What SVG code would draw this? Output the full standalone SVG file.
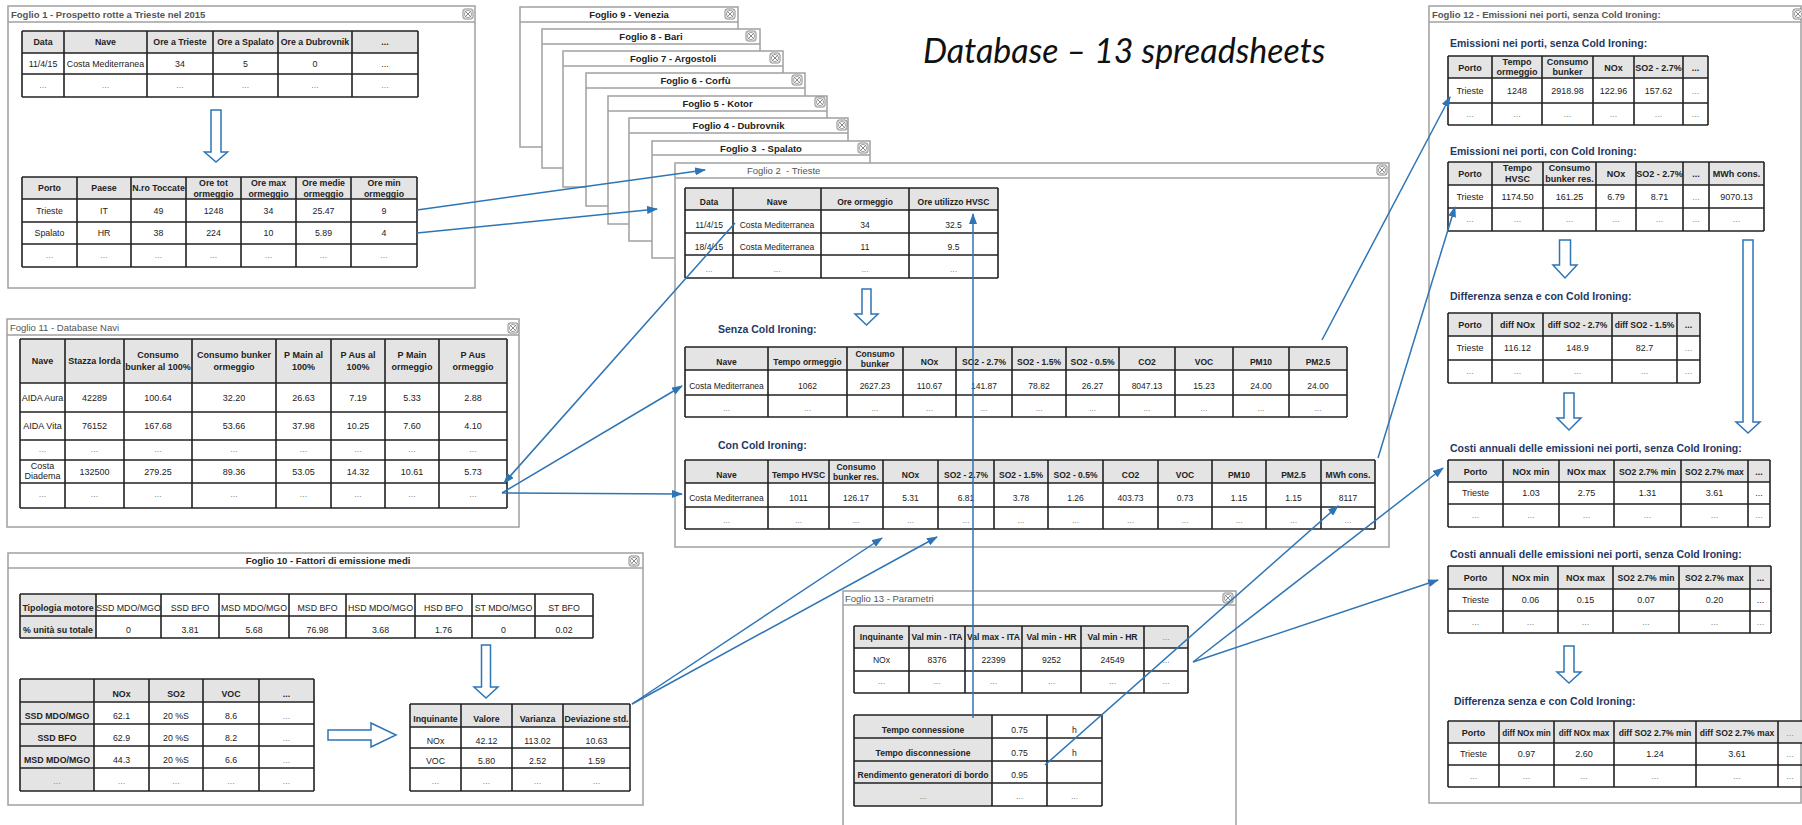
<svg xmlns="http://www.w3.org/2000/svg" width="1802" height="825" viewBox="0 0 1802 825" font-family="'Liberation Sans', Arial, sans-serif">
<style>
.win{fill:#fff;stroke:#a0a0a0;stroke-width:1.5}
.bar{fill:none;stroke:#a0a0a0;stroke-width:1.5}
.wt{font-size:9.5px;font-weight:bold;fill:#555}
.wr{font-size:9.5px;fill:#555}
.g{fill:#e4e4e4}
.grid{fill:none;stroke:#222;stroke-width:1.6}
.c{text-anchor:middle;fill:#222}
.b{font-weight:bold}
.d{fill:#888}
.hd{font-size:10.5px;font-weight:bold;fill:#1f3864}
.cn{fill:none;stroke:#2e75b6;stroke-width:1.5}
.ha{fill:#fff;stroke:#2e75b6;stroke-width:1.5}
.ttl{font-family:Lato,'Open Sans',sans-serif;font-style:italic;font-size:34px;fill:#111}
</style>
<defs>
<symbol id="cl" viewBox="0 0 10 10" width="10" height="10" overflow="visible">
<rect x="0" y="0" width="10" height="10" rx="2" fill="#fff" stroke="#888" stroke-width="1"/>
<circle cx="5" cy="5" r="3.6" fill="none" stroke="#888" stroke-width="0.8"/>
<path d="M1.5 1.5L8.5 8.5M8.5 1.5L1.5 8.5" stroke="#888" stroke-width="1"/>
</symbol>
<marker id="ah" markerWidth="11" markerHeight="8" refX="10" refY="4" orient="auto" markerUnits="userSpaceOnUse">
<path d="M0 0L11 4L0 8z" fill="#2e75b6"/>
</marker>
</defs>
<rect width="1802" height="825" fill="#fff"/>

<text class="ttl" x="923" y="63">Database – 13 spreadsheets</text>

<g id="foglio9">
<rect class="win" x="520" y="7" width="218" height="140"/><path class="bar" d="M520 22H738"/>
<text class="wt c" x="629" y="17.5">Foglio 9 - Venezia</text><use href="#cl" x="725" y="9"/>
</g>
<g id="foglio8">
<rect class="win" x="542" y="29" width="218" height="139"/><path class="bar" d="M542 44H760"/>
<text class="wt c" x="651" y="39.5">Foglio 8 - Bari</text><use href="#cl" x="746" y="31"/>
</g>
<g id="foglio7">
<rect class="win" x="563" y="51" width="220" height="136"/><path class="bar" d="M563 66H783"/>
<text class="wt c" x="673" y="61.5">Foglio 7 - Argostoli</text><use href="#cl" x="770" y="53"/>
</g>
<g id="foglio6">
<rect class="win" x="586" y="73" width="219" height="133"/><path class="bar" d="M586 88H805"/>
<text class="wt c" x="695.5" y="83.5">Foglio 6 - Corfù</text><use href="#cl" x="792" y="75"/>
</g>
<g id="foglio5">
<rect class="win" x="608" y="96" width="219" height="128"/><path class="bar" d="M608 111H827"/>
<text class="wt c" x="717.5" y="106.5">Foglio 5 - Kotor</text><use href="#cl" x="815" y="97"/>
</g>
<g id="foglio4">
<rect class="win" x="629" y="118" width="219" height="123"/><path class="bar" d="M629 133H848"/>
<text class="wt c" x="738.5" y="128.5">Foglio 4 - Dubrovnik</text><use href="#cl" x="837" y="120"/>
</g>
<g id="foglio3">
<rect class="win" x="652" y="141" width="218" height="117"/><path class="bar" d="M652 155H870"/>
<text class="wt c" x="761" y="151.5" xml:space="preserve">Foglio 3  - Spalato</text><use href="#cl" x="858" y="143"/>
</g>

<g id="foglio2" font-size="8.5">
<rect class="win" x="675" y="163" width="714" height="384"/><path class="bar" d="M675 178H1389"/>
<text class="wr" x="747" y="173.5" xml:space="preserve">Foglio 2  - Trieste</text><use href="#cl" x="1377" y="165"/>
<rect class="g" x="685" y="188" width="313" height="22"/>
<path class="grid" d="M685 188H998M685 210H998M685 233H998M685 255H998M685 278H998M685 188V278M733 188V278M821 188V278M909 188V278M998 188V278"/>
<text class="c b" x="709" y="205">Data</text><text class="c b" x="777" y="205">Nave</text><text class="c b" x="865" y="205">Ore ormeggio</text><text class="c b" x="953.5" y="205">Ore utilizzo HVSC</text>
<text class="c" x="709" y="227.5">11/4/15</text><text class="c" x="777" y="227.5">Costa Mediterranea</text><text class="c" x="865" y="227.5">34</text><text class="c" x="953.5" y="227.5">32.5</text>
<text class="c" x="709" y="250">18/4/15</text><text class="c" x="777" y="250">Costa Mediterranea</text><text class="c" x="865" y="250">11</text><text class="c" x="953.5" y="250">9.5</text>
<text class="c d" x="709" y="272">...</text><text class="c d" x="777" y="272">...</text><text class="c d" x="865" y="272">...</text><text class="c d" x="953.5" y="272">...</text>
<path class="ha" d="M862 289H871V314H878L866.5 325L855 314H862Z"/>
<text class="hd" x="718" y="333">Senza Cold Ironing:</text>
<rect class="g" x="685" y="347" width="662" height="23"/>
<path class="grid" d="M685 347H1347M685 370H1347M685 395H1347M685 417H1347M685 347V417M768 347V417M847 347V417M903 347V417M956 347V417M1012 347V417M1066 347V417M1119 347V417M1175 347V417M1233 347V417M1289 347V417M1347 347V417"/>
<text class="c b" x="726.5" y="364.5">Nave</text><text class="c b" x="807.5" y="364.5">Tempo ormeggio</text><text class="c b" x="875" y="357">Consumo</text><text class="c b" x="875" y="367">bunker</text><text class="c b" x="929.5" y="364.5">NOx</text><text class="c b" x="984" y="364.5">SO2 - 2.7%</text><text class="c b" x="1039" y="364.5">SO2 - 1.5%</text><text class="c b" x="1092.5" y="364.5">SO2 - 0.5%</text><text class="c b" x="1147" y="364.5">CO2</text><text class="c b" x="1204" y="364.5">VOC</text><text class="c b" x="1261" y="364.5">PM10</text><text class="c b" x="1318" y="364.5">PM2.5</text>
<text class="c" x="726.5" y="388.5">Costa Mediterranea</text><text class="c" x="807.5" y="388.5">1062</text><text class="c" x="875" y="388.5">2627.23</text><text class="c" x="929.5" y="388.5">110.67</text><text class="c" x="984" y="388.5">141.87</text><text class="c" x="1039" y="388.5">78.82</text><text class="c" x="1092.5" y="388.5">26.27</text><text class="c" x="1147" y="388.5">8047.13</text><text class="c" x="1204" y="388.5">15.23</text><text class="c" x="1261" y="388.5">24.00</text><text class="c" x="1318" y="388.5">24.00</text>
<text class="c d" x="726.5" y="411">...</text><text class="c d" x="807.5" y="411">...</text><text class="c d" x="875" y="411">...</text><text class="c d" x="929.5" y="411">...</text><text class="c d" x="984" y="411">...</text><text class="c d" x="1039" y="411">...</text><text class="c d" x="1092.5" y="411">...</text><text class="c d" x="1147" y="411">...</text><text class="c d" x="1204" y="411">...</text><text class="c d" x="1261" y="411">...</text><text class="c d" x="1318" y="411">...</text>
<text class="hd" x="718" y="449">Con Cold Ironing:</text>
<rect class="g" x="685" y="460" width="690" height="23"/>
<path class="grid" d="M685 460H1375M685 483H1375M685 507H1375M685 529H1375M685 460V529M768 460V529M829 460V529M883 460V529M938 460V529M994 460V529M1048 460V529M1103 460V529M1158 460V529M1212 460V529M1266 460V529M1321 460V529M1375 460V529"/>
<text class="c b" x="726.5" y="477.5">Nave</text><text class="c b" x="798.5" y="477.5">Tempo HVSC</text><text class="c b" x="856" y="470">Consumo</text><text class="c b" x="856" y="480">bunker res.</text><text class="c b" x="910.5" y="477.5">NOx</text><text class="c b" x="966" y="477.5">SO2 - 2.7%</text><text class="c b" x="1021" y="477.5">SO2 - 1.5%</text><text class="c b" x="1075.5" y="477.5">SO2 - 0.5%</text><text class="c b" x="1130.5" y="477.5">CO2</text><text class="c b" x="1185" y="477.5">VOC</text><text class="c b" x="1239" y="477.5">PM10</text><text class="c b" x="1293.5" y="477.5">PM2.5</text><text class="c b" x="1348" y="477.5">MWh cons.</text>
<text class="c" x="726.5" y="501">Costa Mediterranea</text><text class="c" x="798.5" y="501">1011</text><text class="c" x="856" y="501">126.17</text><text class="c" x="910.5" y="501">5.31</text><text class="c" x="966" y="501">6.81</text><text class="c" x="1021" y="501">3.78</text><text class="c" x="1075.5" y="501">1.26</text><text class="c" x="1130.5" y="501">403.73</text><text class="c" x="1185" y="501">0.73</text><text class="c" x="1239" y="501">1.15</text><text class="c" x="1293.5" y="501">1.15</text><text class="c" x="1348" y="501">8117</text>
<text class="c d" x="726.5" y="523">...</text><text class="c d" x="798.5" y="523">...</text><text class="c d" x="856" y="523">...</text><text class="c d" x="910.5" y="523">...</text><text class="c d" x="966" y="523">...</text><text class="c d" x="1021" y="523">...</text><text class="c d" x="1075.5" y="523">...</text><text class="c d" x="1130.5" y="523">...</text><text class="c d" x="1185" y="523">...</text><text class="c d" x="1239" y="523">...</text><text class="c d" x="1293.5" y="523">...</text><text class="c d" x="1348" y="523">...</text>
</g>

<g id="foglio1" font-size="8.8">
<rect class="win" x="8" y="6" width="467" height="282"/><path class="bar" d="M8 22H475"/>
<text class="wt" x="11" y="17.5">Foglio 1 - Prospetto rotte a Trieste nel 2015</text><use href="#cl" x="463" y="9"/>
<rect class="g" x="22" y="31" width="396" height="22"/>
<path class="grid" d="M22 31H418M22 53H418M22 74H418M22 97H418M22 31V97M64 31V97M147 31V97M213 31V97M278 31V97M352 31V97M418 31V97"/>
<text class="c b" x="43" y="45">Data</text><text class="c b" x="105.5" y="45">Nave</text><text class="c b" x="180" y="45">Ore a Trieste</text><text class="c b" x="245.5" y="45">Ore a Spalato</text><text class="c b" x="315" y="45">Ore a Dubrovnik</text><text class="c b" x="385" y="45">...</text>
<text class="c" x="43" y="66.5">11/4/15</text><text class="c" x="105.5" y="66.5">Costa Mediterranea</text><text class="c" x="180" y="66.5">34</text><text class="c" x="245.5" y="66.5">5</text><text class="c" x="315" y="66.5">0</text><text class="c" x="385" y="66.5">...</text>
<text class="c d" x="43" y="88">...</text><text class="c d" x="105.5" y="88">...</text><text class="c d" x="180" y="88">...</text><text class="c d" x="245.5" y="88">...</text><text class="c d" x="315" y="88">...</text><text class="c d" x="385" y="88">...</text>
<path class="ha" d="M211 110H221V152H227.5L216 162L204.5 152H211Z"/>
<rect class="g" x="22" y="177" width="395" height="22"/>
<path class="grid" d="M22 177H417M22 199H417M22 222H417M22 244H417M22 267H417M22 177V267M77 177V267M131 177V267M186 177V267M241 177V267M296 177V267M351 177V267M417 177V267"/>
<text class="c b" x="49.5" y="191">Porto</text><text class="c b" x="104" y="191">Paese</text><text class="c b" x="158.5" y="191">N.ro Toccate</text><text class="c b" x="213.5" y="186">Ore tot</text><text class="c b" x="213.5" y="196.5">ormeggio</text><text class="c b" x="268.5" y="186">Ore max</text><text class="c b" x="268.5" y="196.5">ormeggio</text><text class="c b" x="323.5" y="186">Ore medie</text><text class="c b" x="323.5" y="196.5">ormeggio</text><text class="c b" x="384" y="186">Ore min</text><text class="c b" x="384" y="196.5">ormeggio</text>
<text class="c" x="49.5" y="214">Trieste</text><text class="c" x="104" y="214">IT</text><text class="c" x="158.5" y="214">49</text><text class="c" x="213.5" y="214">1248</text><text class="c" x="268.5" y="214">34</text><text class="c" x="323.5" y="214">25.47</text><text class="c" x="384" y="214">9</text>
<text class="c" x="49.5" y="236">Spalato</text><text class="c" x="104" y="236">HR</text><text class="c" x="158.5" y="236">38</text><text class="c" x="213.5" y="236">224</text><text class="c" x="268.5" y="236">10</text><text class="c" x="323.5" y="236">5.89</text><text class="c" x="384" y="236">4</text>
<text class="c d" x="49.5" y="258">...</text><text class="c d" x="104" y="258">...</text><text class="c d" x="158.5" y="258">...</text><text class="c d" x="213.5" y="258">...</text><text class="c d" x="268.5" y="258">...</text><text class="c d" x="323.5" y="258">...</text><text class="c d" x="384" y="258">...</text>
</g>

<g id="foglio11" font-size="9">
<rect class="win" x="7" y="319" width="512" height="208"/><path class="bar" d="M7 335H519"/>
<text class="wr" x="10" y="330.5">Foglio 11 - Database Navi</text><use href="#cl" x="508" y="323"/>
<rect class="g" x="20" y="339" width="487" height="44"/>
<path class="grid" d="M20 339H507M20 383H507M20 412H507M20 440H507M20 460H507M20 483H507M20 508H507M20 339V508M65 339V508M124 339V508M192 339V508M276 339V508M331 339V508M385 339V508M439 339V508M507 339V508"/>
<text class="c b" x="42.5" y="364">Nave</text><text class="c b" x="94.5" y="364">Stazza lorda</text>
<text class="c b" x="158" y="358">Consumo</text><text class="c b" x="158" y="370">bunker al 100%</text>
<text class="c b" x="234" y="358">Consumo bunker</text><text class="c b" x="234" y="370">ormeggio</text>
<text class="c b" x="303.5" y="358">P Main al</text><text class="c b" x="303.5" y="370">100%</text>
<text class="c b" x="358" y="358">P Aus al</text><text class="c b" x="358" y="370">100%</text>
<text class="c b" x="412" y="358">P Main</text><text class="c b" x="412" y="370">ormeggio</text>
<text class="c b" x="473" y="358">P Aus</text><text class="c b" x="473" y="370">ormeggio</text>
<text class="c" x="42.5" y="401">AIDA Aura</text><text class="c" x="94.5" y="401">42289</text><text class="c" x="158" y="401">100.64</text><text class="c" x="234" y="401">32.20</text><text class="c" x="303.5" y="401">26.63</text><text class="c" x="358" y="401">7.19</text><text class="c" x="412" y="401">5.33</text><text class="c" x="473" y="401">2.88</text>
<text class="c" x="42.5" y="429">AIDA Vita</text><text class="c" x="94.5" y="429">76152</text><text class="c" x="158" y="429">167.68</text><text class="c" x="234" y="429">53.66</text><text class="c" x="303.5" y="429">37.98</text><text class="c" x="358" y="429">10.25</text><text class="c" x="412" y="429">7.60</text><text class="c" x="473" y="429">4.10</text>
<text class="c d" x="42.5" y="452">...</text><text class="c d" x="94.5" y="452">...</text><text class="c d" x="158" y="452">...</text><text class="c d" x="234" y="452">...</text><text class="c d" x="303.5" y="452">...</text><text class="c d" x="358" y="452">...</text><text class="c d" x="412" y="452">...</text><text class="c d" x="473" y="452">...</text>
<text class="c" x="42.5" y="469">Costa</text><text class="c" x="42.5" y="479">Diadema</text><text class="c" x="94.5" y="474.5">132500</text><text class="c" x="158" y="474.5">279.25</text><text class="c" x="234" y="474.5">89.36</text><text class="c" x="303.5" y="474.5">53.05</text><text class="c" x="358" y="474.5">14.32</text><text class="c" x="412" y="474.5">10.61</text><text class="c" x="473" y="474.5">5.73</text>
<text class="c d" x="42.5" y="497">...</text><text class="c d" x="94.5" y="497">...</text><text class="c d" x="158" y="497">...</text><text class="c d" x="234" y="497">...</text><text class="c d" x="303.5" y="497">...</text><text class="c d" x="358" y="497">...</text><text class="c d" x="412" y="497">...</text><text class="c d" x="473" y="497">...</text>
</g>

<g id="foglio10" font-size="8.8">
<rect class="win" x="8" y="553" width="635" height="252"/><path class="bar" d="M8 568H643"/>
<text class="wt c" x="328" y="563.5">Foglio 10 - Fattori di emissione medi</text><use href="#cl" x="629" y="556"/>
<rect class="g" x="20" y="594" width="76" height="44"/>
<path class="grid" d="M20 594H593M20 616H593M20 638H593M20 594V638M96 594V638M161 594V638M219 594V638M289 594V638M346 594V638M415 594V638M472 594V638M535 594V638M593 594V638"/>
<text class="c b" x="58" y="611">Tipologia motore</text><text class="c" x="128.5" y="611">SSD MDO/MGO</text><text class="c" x="190" y="611">SSD BFO</text><text class="c" x="254" y="611">MSD MDO/MGO</text><text class="c" x="317.5" y="611">MSD BFO</text><text class="c" x="380.5" y="611">HSD MDO/MGO</text><text class="c" x="443.5" y="611">HSD BFO</text><text class="c" x="503.5" y="611">ST MDO/MGO</text><text class="c" x="564" y="611">ST BFO</text>
<text class="c b" x="58" y="633">% unità su totale</text><text class="c" x="128.5" y="633">0</text><text class="c" x="190" y="633">3.81</text><text class="c" x="254" y="633">5.68</text><text class="c" x="317.5" y="633">76.98</text><text class="c" x="380.5" y="633">3.68</text><text class="c" x="443.5" y="633">1.76</text><text class="c" x="503.5" y="633">0</text><text class="c" x="564" y="633">0.02</text>
<rect class="g" x="20" y="679" width="294" height="23"/><rect class="g" x="20" y="702" width="74" height="89"/>
<path class="grid" d="M20 679H314M20 702H314M20 724H314M20 746H314M20 768H314M20 791H314M20 679V791M94 679V791M149 679V791M203 679V791M259 679V791M314 679V791"/>
<text class="c b" x="121.5" y="696.5">NOx</text><text class="c b" x="176" y="696.5">SO2</text><text class="c b" x="231" y="696.5">VOC</text><text class="c b" x="286.5" y="696.5">...</text>
<text class="c b" x="57" y="719">SSD MDO/MGO</text><text class="c" x="121.5" y="719">62.1</text><text class="c" x="176" y="719">20 %S</text><text class="c" x="231" y="719">8.6</text><text class="c d" x="286.5" y="719">...</text>
<text class="c b" x="57" y="741">SSD BFO</text><text class="c" x="121.5" y="741">62.9</text><text class="c" x="176" y="741">20 %S</text><text class="c" x="231" y="741">8.2</text><text class="c d" x="286.5" y="741">...</text>
<text class="c b" x="57" y="763">MSD MDO/MGO</text><text class="c" x="121.5" y="763">44.3</text><text class="c" x="176" y="763">20 %S</text><text class="c" x="231" y="763">6.6</text><text class="c d" x="286.5" y="763">...</text>
<text class="c d" x="57" y="784">...</text><text class="c d" x="121.5" y="784">...</text><text class="c d" x="176" y="784">...</text><text class="c d" x="231" y="784">...</text><text class="c d" x="286.5" y="784">...</text>
<path class="ha" d="M328 730H371V723L396 735L371 747V740H328Z"/>
<path class="ha" d="M481.5 645H490.5V687H498L486 698L474 687H481.5Z"/>
<rect class="g" x="410" y="704" width="220" height="23"/>
<path class="grid" d="M410 704H630M410 727H630M410 748H630M410 768H630M410 791H630M410 704V791M461 704V791M512 704V791M563 704V791M630 704V791"/>
<text class="c b" x="435.5" y="721.5">Inquinante</text><text class="c b" x="486.5" y="721.5">Valore</text><text class="c b" x="537.5" y="721.5">Varianza</text><text class="c b" x="596.5" y="721.5">Deviazione std.</text>
<text class="c" x="435.5" y="743.5">NOx</text><text class="c" x="486.5" y="743.5">42.12</text><text class="c" x="537.5" y="743.5">113.02</text><text class="c" x="596.5" y="743.5">10.63</text>
<text class="c" x="435.5" y="764">VOC</text><text class="c" x="486.5" y="764">5.80</text><text class="c" x="537.5" y="764">2.52</text><text class="c" x="596.5" y="764">1.59</text>
<text class="c d" x="435.5" y="784">...</text><text class="c d" x="486.5" y="784">...</text><text class="c d" x="537.5" y="784">...</text><text class="c d" x="596.5" y="784">...</text>
</g>

<g id="foglio13" font-size="8.6">
<rect class="win" x="843" y="591" width="393" height="245"/><path class="bar" d="M843 605H1236"/>
<text class="wr" x="845" y="601.5">Foglio 13 - Parametri</text><use href="#cl" x="1223" y="593"/>
<rect class="g" x="854" y="626" width="334" height="22"/>
<path class="grid" d="M854 626H1188M854 648H1188M854 671H1188M854 693H1188M854 626V693M909 626V693M965 626V693M1022 626V693M1081 626V693M1144 626V693M1188 626V693"/>
<text class="c b" x="881.5" y="640">Inquinante</text><text class="c b" x="937" y="640">Val min - ITA</text><text class="c b" x="993.5" y="640">Val max - ITA</text><text class="c b" x="1051.5" y="640">Val min - HR</text><text class="c b" x="1112.5" y="640">Val min - HR</text><text class="c d" x="1166" y="640">...</text>
<text class="c" x="881.5" y="662.5">NOx</text><text class="c" x="937" y="662.5">8376</text><text class="c" x="993.5" y="662.5">22399</text><text class="c" x="1051.5" y="662.5">9252</text><text class="c" x="1112.5" y="662.5">24549</text><text class="c d" x="1166" y="662.5">...</text>
<text class="c d" x="881.5" y="684">...</text><text class="c d" x="937" y="684">...</text><text class="c d" x="993.5" y="684">...</text><text class="c d" x="1051.5" y="684">...</text><text class="c d" x="1112.5" y="684">...</text><text class="c d" x="1166" y="684">...</text>
<rect class="g" x="854" y="715" width="138" height="91"/>
<path class="grid" d="M854 715H1102M854 738H1102M854 761H1102M854 783H1102M854 806H1102M854 715V806M992 715V806M1047 715V806M1102 715V806"/>
<text class="c b" x="923" y="732.5">Tempo connessione</text><text class="c" x="1019.5" y="732.5">0.75</text><text class="c" x="1074.5" y="732.5">h</text>
<text class="c b" x="923" y="755.5">Tempo disconnessione</text><text class="c" x="1019.5" y="755.5">0.75</text><text class="c" x="1074.5" y="755.5">h</text>
<text class="c b" x="923" y="778">Rendimento generatori di bordo</text><text class="c" x="1019.5" y="778">0.95</text>
<text class="c d" x="923" y="799">...</text><text class="c d" x="1019.5" y="799">...</text><text class="c d" x="1074.5" y="799">...</text>
</g>

<g id="foglio12" font-size="9">
<rect class="win" x="1429" y="6" width="372" height="797"/><path class="bar" d="M1429 22H1801"/>
<text class="wt" x="1432" y="17.5">Foglio 12 - Emissioni nei porti, senza Cold Ironing:</text><use href="#cl" x="1793" y="9"/>
<text class="hd" x="1450" y="47">Emissioni nei porti, senza Cold Ironing:</text>
<rect class="g" x="1448" y="56" width="260" height="22"/>
<path class="grid" d="M1448 56H1708M1448 78H1708M1448 103H1708M1448 125H1708M1448 56V125M1492 56V125M1542 56V125M1593 56V125M1634 56V125M1683 56V125M1708 56V125"/>
<text class="c b" x="1470" y="70.5">Porto</text><text class="c b" x="1517" y="64.5">Tempo</text><text class="c b" x="1517" y="75">ormeggio</text><text class="c b" x="1567.5" y="64.5">Consumo</text><text class="c b" x="1567.5" y="75">bunker</text><text class="c b" x="1613.5" y="70.5">NOx</text><text class="c b" x="1658.5" y="70.5">SO2 - 2.7%</text><text class="c b" x="1695.5" y="70.5">...</text>
<text class="c" x="1470" y="94">Trieste</text><text class="c" x="1517" y="94">1248</text><text class="c" x="1567.5" y="94">2918.98</text><text class="c" x="1613.5" y="94">122.96</text><text class="c" x="1658.5" y="94">157.62</text><text class="c d" x="1695.5" y="94">...</text>
<text class="c d" x="1470" y="117">...</text><text class="c d" x="1517" y="117">...</text><text class="c d" x="1567.5" y="117">...</text><text class="c d" x="1613.5" y="117">...</text><text class="c d" x="1658.5" y="117">...</text><text class="c d" x="1695.5" y="117">...</text>
<text class="hd" x="1450" y="155">Emissioni nei porti, con Cold Ironing:</text>
<rect class="g" x="1448" y="162" width="316" height="23"/>
<path class="grid" d="M1448 162H1764M1448 185H1764M1448 208H1764M1448 231H1764M1448 162V231M1492 162V231M1543 162V231M1596 162V231M1636 162V231M1683 162V231M1709 162V231M1764 162V231"/>
<text class="c b" x="1470" y="177">Porto</text><text class="c b" x="1517.5" y="171">Tempo</text><text class="c b" x="1517.5" y="181.5">HVSC</text><text class="c b" x="1569.5" y="171">Consumo</text><text class="c b" x="1569.5" y="181.5">bunker res.</text><text class="c b" x="1616" y="177">NOx</text><text class="c b" x="1659.5" y="177">SO2 - 2.7%</text><text class="c b" x="1696" y="177">...</text><text class="c b" x="1736.5" y="177">MWh cons.</text>
<text class="c" x="1470" y="200">Trieste</text><text class="c" x="1517.5" y="200">1174.50</text><text class="c" x="1569.5" y="200">161.25</text><text class="c" x="1616" y="200">6.79</text><text class="c" x="1659.5" y="200">8.71</text><text class="c d" x="1696" y="200">...</text><text class="c" x="1736.5" y="200">9070.13</text>
<text class="c d" x="1470" y="222">...</text><text class="c d" x="1517.5" y="222">...</text><text class="c d" x="1569.5" y="222">...</text><text class="c d" x="1616" y="222">...</text><text class="c d" x="1659.5" y="222">...</text><text class="c d" x="1696" y="222">...</text><text class="c d" x="1736.5" y="222">...</text>
<path class="ha" d="M1559.5 240H1570.5V265H1577L1565 278L1553 265H1559.5Z"/>
<path class="ha" d="M1743 240H1753V422H1760L1748 433L1736 422H1743Z"/>
<text class="hd" x="1450" y="300">Differenza senza e con Cold Ironing:</text>
<rect class="g" x="1448" y="313" width="252" height="23"/>
<path class="grid" d="M1448 313H1700M1448 336H1700M1448 360H1700M1448 383H1700M1448 313V383M1492 313V383M1543 313V383M1612 313V383M1677 313V383M1700 313V383"/>
<text class="c b" x="1470" y="328">Porto</text><text class="c b" x="1517.5" y="328">diff NOx</text><text class="c b" x="1577.5" y="328" font-size="8.5">diff SO2 - 2.7%</text><text class="c b" x="1644.5" y="328" font-size="8.5">diff SO2 - 1.5%</text><text class="c b" x="1688.5" y="328">...</text>
<text class="c" x="1470" y="351">Trieste</text><text class="c" x="1517.5" y="351">116.12</text><text class="c" x="1577.5" y="351">148.9</text><text class="c" x="1644.5" y="351">82.7</text><text class="c d" x="1688.5" y="351">...</text>
<text class="c d" x="1470" y="374">...</text><text class="c d" x="1517.5" y="374">...</text><text class="c d" x="1577.5" y="374">...</text><text class="c d" x="1644.5" y="374">...</text><text class="c d" x="1688.5" y="374">...</text>
<path class="ha" d="M1564 393H1574V418H1581L1569 430L1557 418H1564Z"/>
<text class="hd" x="1450" y="452">Costi annuali delle emissioni nei porti, senza Cold Ironing:</text>
<rect class="g" x="1448" y="460" width="322" height="22"/>
<path class="grid" d="M1448 460H1770M1448 482H1770M1448 504H1770M1448 527H1770M1448 460V527M1503 460V527M1559 460V527M1614 460V527M1681 460V527M1748 460V527M1770 460V527"/>
<text class="c b" x="1475.5" y="474.5">Porto</text><text class="c b" x="1531" y="474.5">NOx min</text><text class="c b" x="1586.5" y="474.5">NOx max</text><text class="c b" x="1647.5" y="474.5" font-size="8.6">SO2  2.7% min</text><text class="c b" x="1714.5" y="474.5" font-size="8.6">SO2 2.7% max</text><text class="c b" x="1759" y="474.5">...</text>
<text class="c" x="1475.5" y="496">Trieste</text><text class="c" x="1531" y="496">1.03</text><text class="c" x="1586.5" y="496">2.75</text><text class="c" x="1647.5" y="496">1.31</text><text class="c" x="1714.5" y="496">3.61</text><text class="c" x="1759" y="496">...</text>
<text class="c d" x="1475.5" y="518">...</text><text class="c d" x="1531" y="518">...</text><text class="c d" x="1586.5" y="518">...</text><text class="c d" x="1647.5" y="518">...</text><text class="c d" x="1714.5" y="518">...</text><text class="c d" x="1759" y="518">...</text>
<text class="hd" x="1450" y="558">Costi annuali delle emissioni nei porti, senza Cold Ironing:</text>
<rect class="g" x="1448" y="566" width="323" height="23"/>
<path class="grid" d="M1448 566H1771M1448 589H1771M1448 611H1771M1448 633H1771M1448 566V633M1503 566V633M1558 566V633M1613 566V633M1679 566V633M1750 566V633M1771 566V633"/>
<text class="c b" x="1475.5" y="581">Porto</text><text class="c b" x="1530.5" y="581">NOx min</text><text class="c b" x="1585.5" y="581">NOx max</text><text class="c b" x="1646" y="581" font-size="8.6">SO2  2.7% min</text><text class="c b" x="1714.5" y="581" font-size="8.6">SO2 2.7% max</text><text class="c b" x="1760.5" y="581">...</text>
<text class="c" x="1475.5" y="603">Trieste</text><text class="c" x="1530.5" y="603">0.06</text><text class="c" x="1585.5" y="603">0.15</text><text class="c" x="1646" y="603">0.07</text><text class="c" x="1714.5" y="603">0.20</text><text class="c" x="1760.5" y="603">...</text>
<text class="c d" x="1475.5" y="625">...</text><text class="c d" x="1530.5" y="625">...</text><text class="c d" x="1585.5" y="625">...</text><text class="c d" x="1646" y="625">...</text><text class="c d" x="1714.5" y="625">...</text><text class="c d" x="1760.5" y="625">...</text>
<path class="ha" d="M1564 646H1574V672H1581L1569 683L1557 672H1564Z"/>
<text class="hd" x="1454" y="705">Differenza senza e con Cold Ironing:</text>
<rect class="g" x="1448" y="721" width="358" height="22"/>
<path class="grid" d="M1448 721H1806M1448 743H1806M1448 765H1806M1448 787H1806M1448 721V787M1499 721V787M1554 721V787M1614 721V787M1696 721V787M1778 721V787"/>
<text class="c b" x="1473.5" y="735.5">Porto</text><text class="c b" x="1526.5" y="735.5" font-size="8.2">diff NOx min</text><text class="c b" x="1584" y="735.5" font-size="8.2">diff NOx max</text><text class="c b" x="1655" y="735.5" font-size="8.6">diff SO2 2.7% min</text><text class="c b" x="1737" y="735.5" font-size="8.6">diff SO2 2.7% max</text><text class="c d" x="1790" y="735.5">...</text>
<text class="c" x="1473.5" y="757">Trieste</text><text class="c" x="1526.5" y="757">0.97</text><text class="c" x="1584" y="757">2.60</text><text class="c" x="1655" y="757">1.24</text><text class="c" x="1737" y="757">3.61</text><text class="c d" x="1790" y="757">...</text>
<text class="c d" x="1473.5" y="779">...</text><text class="c d" x="1526.5" y="779">...</text><text class="c d" x="1584" y="779">...</text><text class="c d" x="1655" y="779">...</text><text class="c d" x="1737" y="779">...</text><text class="c d" x="1790" y="779">...</text>
</g>

<g id="connectors">
<path class="cn" marker-end="url(#ah)" d="M417 210L705 170"/>
<path class="cn" marker-end="url(#ah)" d="M417 233L657 209"/>
<path class="cn" marker-end="url(#ah)" d="M735 223L504 483"/>
<path class="cn" marker-end="url(#ah)" d="M502 493L682 386"/>
<path class="cn" marker-end="url(#ah)" d="M502 493L682 494"/>
<path class="cn" marker-end="url(#ah)" d="M632 704L882 538"/>
<path class="cn" marker-end="url(#ah)" d="M632 704L937 537"/>
<path class="cn" marker-end="url(#ah)" d="M973 718L973 214"/>
<path class="cn" marker-end="url(#ah)" d="M1045 765L1338 506"/>
<path class="cn" marker-end="url(#ah)" d="M1193 662L1443 468"/>
<path class="cn" marker-end="url(#ah)" d="M1193 662L1438 580"/>
<path class="cn" marker-end="url(#ah)" d="M1322 340L1450 97"/>
<path class="cn" marker-end="url(#ah)" d="M1378 458L1455 207"/>
</g>
</svg>
